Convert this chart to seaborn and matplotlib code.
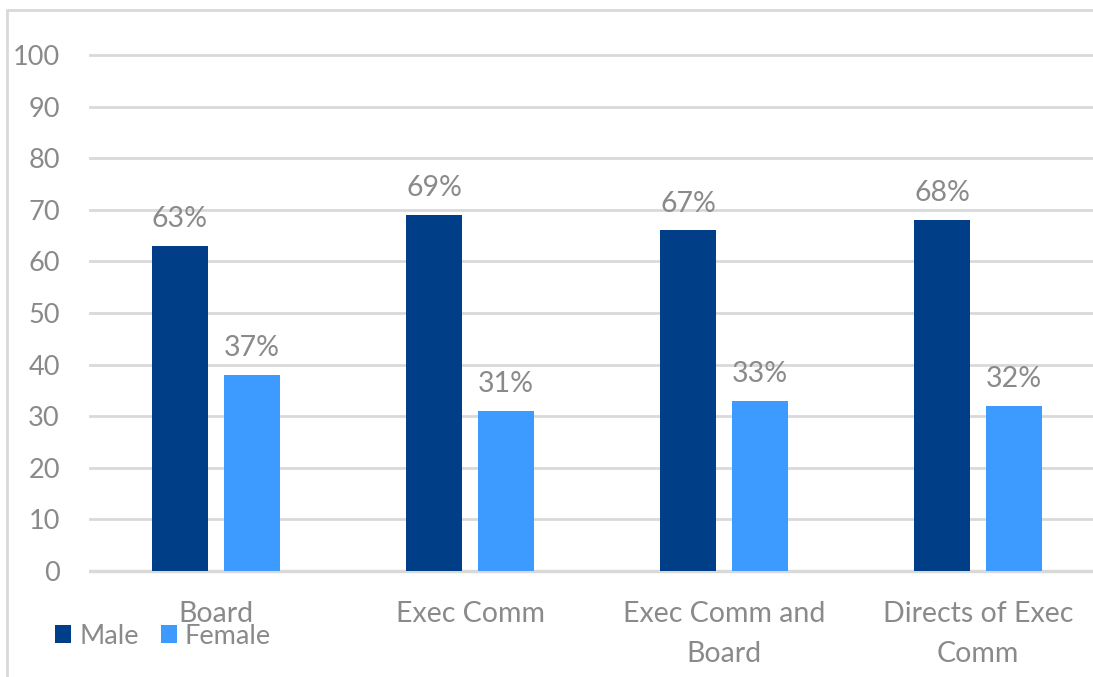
import matplotlib
matplotlib.use("Agg")
import matplotlib.pyplot as plt
import seaborn as sns
import pandas as pd
from matplotlib.patches import Patch
from matplotlib.lines import Line2D

categories = ["Board", "Exec Comm", "Exec Comm and\nBoard", "Directs of Exec\nComm"]
series = ["Male", "Female"]
male_values = [63, 69, 66, 68]
female_values = [38, 31, 33, 32]
male_labels = ["63%", "69%", "67%", "68%"]
female_labels = ["37%", "31%", "33%", "32%"]
yticks = [0, 10, 20, 30, 40, 50, 60, 70, 80, 90, 100]

colors = {"Male": "#003F87", "Female": "#3D9AFF"}
text_color = "#8a8a8a"
grid_color = "#d9d9d9"

df = pd.DataFrame({
    "category": categories * 2,
    "sex": ["Male"] * 4 + ["Female"] * 4,
    "value": male_values + female_values,
})

sns.set_theme(style="white")
plt.rcParams["font.family"] = ["Lato", "DejaVu Sans"]

W, H = 1093, 677
fig = plt.figure(figsize=(W / 100, H / 100), dpi=100)
ppu = 5.16
y0 = 571
ax_bottom = y0 + 1 * ppu
ax_top = y0 - 105 * ppu
ax = fig.add_axes([89 / W, (H - ax_bottom) / H, 1016 / W, (ax_bottom - ax_top) / H])

sns.barplot(data=df, x="category", y="value", hue="sex", order=categories,
            hue_order=series, palette=colors, width=0.567, gap=0.21,
            saturation=1, ax=ax, legend=False, errorbar=None, linewidth=0)

ax.set_xlim(-0.5, 3.5)
ax.set_ylim(-1, 105)
ax.set_yticks(yticks)
ax.set_yticklabels([str(t) for t in yticks])
ax.set_xlabel("")
ax.set_ylabel("")
for s in ax.spines.values():
    s.set_visible(False)
ax.set_axisbelow(True)
for t in yticks:
    ax.axhline(t, color=grid_color, lw=2 if t else 2.5, zorder=0)
ax.tick_params(axis="y", length=0, pad=21, labelsize=19.5, labelcolor=text_color)
ax.tick_params(axis="x", length=0, pad=18, labelsize=20.5, labelcolor=text_color)
for lab in ax.get_xticklabels():
    lab.set_linespacing(1.65)

for cont, labs in zip(ax.containers, [male_labels, female_labels]):
    ax.bar_label(cont, labels=labs, padding=10, fontsize=20.5, color=text_color)

handles = [Patch(facecolor=colors[s], edgecolor="none", label=s) for s in series]
fig.legend(handles=handles, loc="center left", bbox_to_anchor=(55 / W, 1 - 636 / H),
           ncol=2, frameon=False, fontsize=19.5, handlelength=0.6, handleheight=0.6,
           handletextpad=0.3, columnspacing=0.8, labelcolor=text_color,
           borderaxespad=0, borderpad=0)

fig.add_artist(Line2D([7 / W, 7 / W], [0, 1 - 10 / H], transform=fig.transFigure,
                      color=grid_color, lw=2))
fig.add_artist(Line2D([7 / W, 1], [1 - 10 / H, 1 - 10 / H], transform=fig.transFigure,
                      color=grid_color, lw=2))

fig.savefig("out.png", dpi=100)
